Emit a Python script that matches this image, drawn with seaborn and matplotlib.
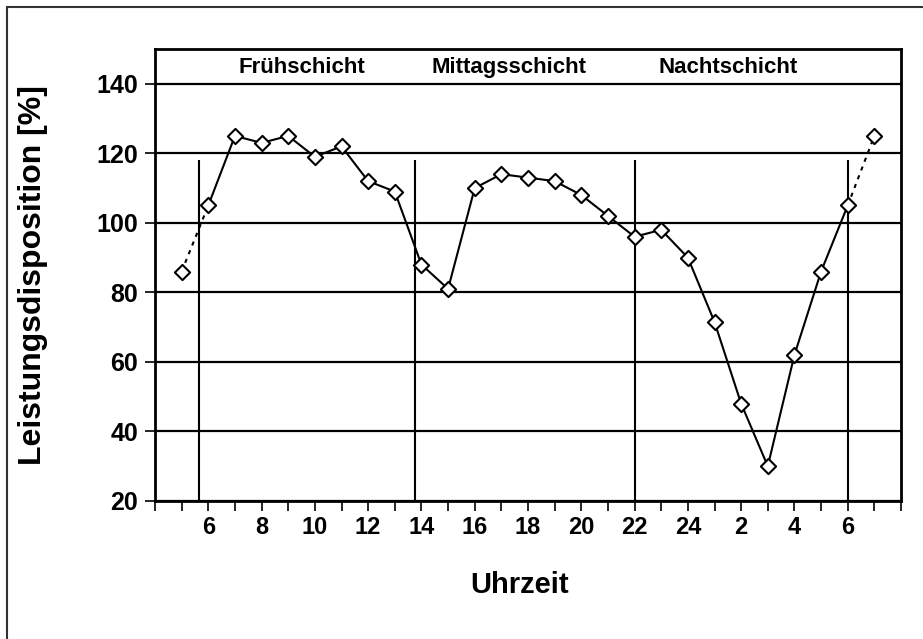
import matplotlib
matplotlib.use("Agg")
import matplotlib.pyplot as plt
from matplotlib.patches import Rectangle
from matplotlib.ticker import MultipleLocator
import seaborn as sns
import pandas as pd

# ---- data ----
hours = list(range(5, 32))
values = [86, 105, 125, 123, 125, 119, 122, 112, 109, 88, 81, 110, 114, 113,
          112, 108, 102, 96, 98, 90, 71.5, 48, 30, 62, 86, 105, 125]
tick_hours = [6, 8, 10, 12, 14, 16, 18, 20, 22, 24, 26, 28, 30]
tick_labels = ["6", "8", "10", "12", "14", "16", "18", "20", "22", "24", "2", "4", "6"]
shift_names = ["Frühschicht", "Mittagsschicht", "Nachtschicht"]
shift_label_x = [9.5, 17.3, 25.5]
shift_bounds = [5.65, 13.75, 22.0, 30.0]
y_ticks = [20, 40, 60, 80, 100, 120, 140]

df = pd.DataFrame({"hour": hours, "value": values})
main = df[(df.hour >= 6) & (df.hour <= 30)]
pre = df[df.hour <= 6]
post = df[df.hour >= 30]

sns.set_style("white")
plt.rcParams['font.family'] = ['Liberation Sans', 'DejaVu Sans']
plt.rcParams['text.color'] = 'black'
plt.rcParams['axes.labelcolor'] = 'black'
plt.rcParams['xtick.color'] = 'black'
plt.rcParams['ytick.color'] = 'black'

fig = plt.figure(figsize=(9.23, 6.39), dpi=100)
ax = fig.add_axes([155 / 923, 1 - 501 / 639, (901 - 155) / 923, (501 - 49) / 639])

# outer frame (cropped)
fig.patches.append(Rectangle((6.5 / 923, -0.2), 1.5, 1.2 - 6.5 / 639,
                             transform=fig.transFigure, fill=False,
                             edgecolor="#333333", linewidth=1.5))

# grid lines
for y in y_ticks:
    ax.axhline(y, color="black", lw=1.6, zorder=1)
ax.vlines(shift_bounds, 20, 118, color="black", lw=1.5, zorder=1)

dot_style = dict(color="black", lw=1.5, dashes=(2, 2.5))
sns.lineplot(data=pre, x="hour", y="value", ax=ax, sort=False, zorder=2, **dot_style)
sns.lineplot(data=post, x="hour", y="value", ax=ax, sort=False, zorder=2, **dot_style)
sns.lineplot(data=main, x="hour", y="value", ax=ax, sort=False, color="black",
             lw=1.5, zorder=3)
sns.scatterplot(data=df, x="hour", y="value", ax=ax, marker="D", s=60,
                facecolor="white", edgecolor="black", linewidth=1.5, zorder=4)

for name, xpos in zip(shift_names, shift_label_x):
    ax.text(xpos, 144.6, name, ha="center", va="center", fontsize=16,
            fontweight="bold", color="black")

ax.set_xlim(4, 32)
ax.set_ylim(20, 150)
ax.set_yticks(y_ticks)
ax.set_yticklabels([str(v) for v in y_ticks], fontsize=18, fontweight="bold")
ax.set_xticks(tick_hours)
ax.set_xticklabels(tick_labels, fontsize=17, fontweight="bold")
ax.xaxis.set_minor_locator(MultipleLocator(1))
ax.tick_params(axis="both", which="both", direction="out", length=7, width=1.2,
               color="black", bottom=True, left=True)
ax.tick_params(axis="x", which="both", pad=4)
ax.tick_params(axis="y", pad=5)

for s in ax.spines.values():
    s.set_visible(True)
    s.set_color("black")
    s.set_linewidth(2)

ax.set_xlabel("Uhrzeit", fontsize=21, fontweight="bold")
ax.xaxis.set_label_coords(0.489, -0.154)
ax.set_ylabel("Leistungsdisposition [%]", fontsize=23, fontweight="bold")
ax.yaxis.set_label_coords(-0.143, 0.5)

fig.savefig("out.png", dpi=100, facecolor="white")
